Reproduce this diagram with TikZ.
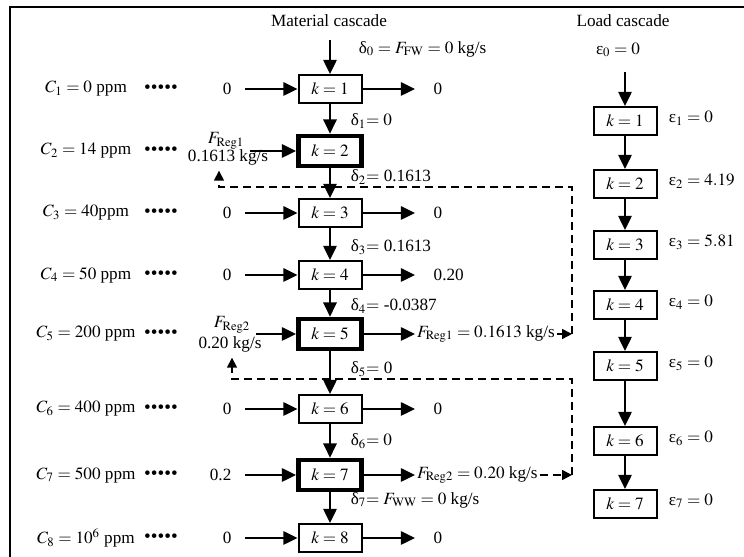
\documentclass[tikz,border=0pt]{standalone}
\usepackage{mathptmx}
\usepackage{fontspec}
\setmainfont{Liberation Serif}
\usetikzlibrary{arrows.meta}
\tikzset{
  BoxStyle/.style = {draw, line width=1.2pt, minimum width=37.8pt, minimum height=16.8pt, inner sep=0pt},
  HeavyBoxStyle/.style = {draw, line width=2.8pt, minimum width=38pt, minimum height=18pt, inner sep=0pt},
  FlowStyle/.style = {line width=1.2pt, -{Triangle[length=8.5pt,width=8pt]}},
  RegStyle/.style = {line width=0.9pt, dash pattern=on 4.8pt off 3pt, -{Triangle[length=6pt,width=6pt]}},
  InStyle/.style = {anchor=east, inner xsep=8pt},
  OutStyle/.style = {anchor=west, inner xsep=11pt},
  RegOutStyle/.style = {anchor=west, inner xsep=1pt},
  DotStyle/.style = {font=\fontsize{11.5}{12}\selectfont}}
\begin{document}
\begin{tikzpicture}[x=0.6pt, y=-0.6pt, font=\fontsize{10.3}{12}\selectfont]
  \useasboundingbox (0,0) rectangle (744,557);
  \draw[line width=1.2pt] (760,7) -- (10,7) -- (10,570);
  \node (mat) at (329,21) {Material cascade};
  \node (load) at (623,21) {Load cascade};
  \node[anchor=west] (d0) at (353,49) {δ$_0 = F_{\mathrm{FW}} = 0$ kg/s};
  \node (e0) at (618,50) {ε$_0 = 0$};
  \coordinate (top) at (330,40);
  \coordinate (ltop) at (625,72);
  \foreach \k/\y/\s in {1/89/BoxStyle, 2/151/HeavyBoxStyle, 3/213/BoxStyle, 4/275/BoxStyle,
      5/334/HeavyBoxStyle, 6/409/BoxStyle, 7/475/HeavyBoxStyle, 8/538/BoxStyle}
    \node[\s] (m\k) at (330,\y) {$k = \k$};
  \draw[FlowStyle] (top) -- (m1);
  \foreach \a/\b in {1/2, 2/3, 3/4, 4/5, 5/6, 6/7, 7/8}
    \draw[FlowStyle] (m\a) -- (m\b);
  \foreach \k/\c in {1/{$C_1 = 0$ ppm}, 2/{$C_2 = 14$ ppm}, 3/{$C_3 = 40$ppm}, 4/{$C_4 = 50$ ppm},
      5/{$C_5 = 200$ ppm}, 6/{$C_6 = 400$ ppm}, 7/{$C_7 = 500$ ppm}, 8/{$C_8 = 10^6$ ppm}} {
    \node (c\k) at (m\k -| 86,0) {\c};
    \node[DotStyle] (dots\k) at (m\k -| 161,0) {•••••};
  }
  \foreach \k/\v in {1/0, 3/0, 4/0, 6/0, 7/0.2, 8/0} {
    \node[InStyle] (i\k) at (m\k -| 245,0) {\v};
    \draw[FlowStyle] (i\k) -- (m\k);
  }
  \node (r1) at (226,141) {$F_{\mathrm{Reg1}}$};
  \node (r1v) at (228,157) {0.1613 kg/s};
  \draw[FlowStyle] (r1.east |- m2) -- (m2);
  \node (r2) at (232,325) {$F_{\mathrm{Reg2}}$};
  \node (r2v) at (230,344) {0.20 kg/s};
  \draw[FlowStyle] (r2.east |- m5) -- (m5);
  \foreach \k/\v in {1/0, 3/0, 4/0.20, 6/0, 8/0} {
    \node[OutStyle] (o\k) at (m\k -| 415,0) {\v};
    \draw[FlowStyle] (m\k) -- (o\k);
  }
  \node[RegOutStyle] (o5) at (m5 -| 415,0) {$F_{\mathrm{Reg1}} = 0.1613$ kg/s};
  \draw[FlowStyle] (m5) -- (o5);
  \node[RegOutStyle] (o7) at (m7 -| 415,0) {$F_{\mathrm{Reg2}} = 0.20$ kg/s};
  \draw[FlowStyle] (m7) -- (o7);
  \coordinate (t5) at (m5 -| 572,0);
  \coordinate (t7) at (m7 -| 572,0);
  \coordinate (b2) at (219,187);
  \coordinate (b5) at (232,379);
  \draw[RegStyle] (o5) -- (t5);
  \draw[RegStyle] (t5) |- (b2) -- (b2 |- r1v.south);
  \draw[RegStyle] (o7) -- (t7);
  \draw[RegStyle] (t7) |- (b5) -- (b5 |- r2v.south);
  \foreach \k/\y/\t in {1/121/{$= 0$}, 2/177/{$=$ 0.1613}, 3/247/{$=$ 0.1613}, 4/306/{$=$ -0.0387},
      5/369/{$=$ 0}, 6/441/{$= 0$}, 7/500/{$= F_{\mathrm{WW}} = 0$ kg/s}}
    \node[anchor=west] (d\k) at (345,\y) {δ$_\k$\t};
  \foreach \k/\y/\v in {1/121/0, 2/184/4.19, 3/245/5.81, 4/305/0, 5/366/0, 6/441/0, 7/504/0} {
    \node[BoxStyle] (l\k) at (625,\y) {$k = \k$};
    \node[anchor=west] (e\k) at (663,\y-3) {ε$_\k = \v$};
  }
  \draw[FlowStyle] (ltop) -- (l1);
  \foreach \a/\b in {1/2, 2/3, 3/4, 4/5, 5/6, 6/7}
    \draw[FlowStyle] (l\a) -- (l\b);
\end{tikzpicture}
\end{document}
